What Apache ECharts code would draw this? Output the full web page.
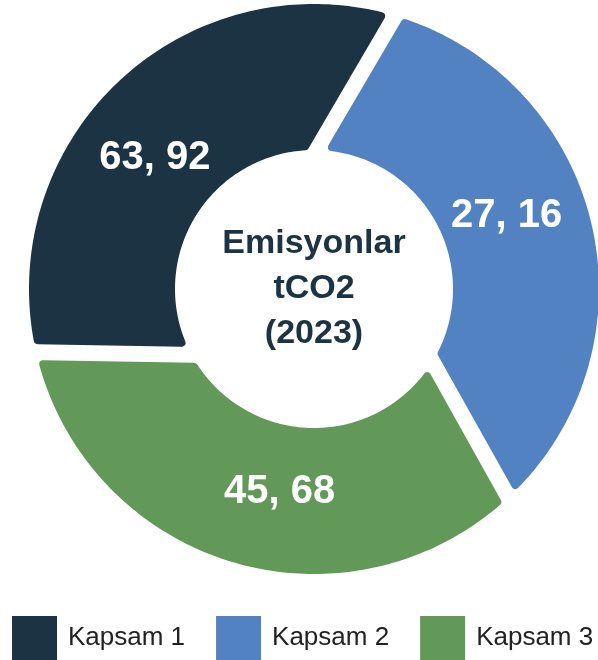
<!DOCTYPE html>
<html>
<head>
<meta charset="utf-8">
<script src="https://cdn.jsdelivr.net/npm/echarts@6/dist/echarts.min.js"></script>
<style>
  html, body { margin: 0; padding: 0; background: #fff; }
  #chart { width: 598px; height: 660px; }
</style>
</head>
<body>
<div id="chart"></div>
<script>
// Kapsam emissions (tCO2, 2023) as printed on the slices
const categories = ["Kapsam 1", "Kapsam 2", "Kapsam 3"];
const emissions = [63.92, 27.16, 45.68];
// share of the ring each slice takes in the picture (%)
const sliceShares = [33.15, 33.45, 33.4];
const colors = ["#1b3343", "#5382c3", "#629858"];
const centerLines = ["Emisyonlar", "tCO2", "(2023)"];

const FONT = "'Liberation Sans', Arial, Helvetica, sans-serif";

// ring geometry
const ring = {
  cx: 314, cy: 289,
  outer: 285, inner: 139,
  start: 242.5,   // degrees clockwise from 12 o'clock, at the inner edge
  twist: 14.5,    // outer end of each cut sits this much further clockwise
  gap: 16,
  corner: 4,
  labelRadius: 206
};

function fmt(v) {
  return v.toFixed(2).replace(".", ", ");
}

function polar(rho, deg) {
  const a = deg * Math.PI / 180;
  return [ring.cx + rho * Math.sin(a), ring.cy - rho * Math.cos(a)];
}

// distance from centre to a cut line (same for every cut)
function cutDistance() {
  const t = ring.twist * Math.PI / 180;
  const r = ring.inner, R = ring.outer;
  const cross = r * R * Math.sin(t);
  const len = Math.sqrt(r * r + R * R - 2 * r * R * Math.cos(t));
  return cross / len;
}

function offsetDeg(h, rho) {
  const d = cutDistance();
  const cosPhi = Math.sqrt(Math.max(0, 1 - (d / rho) * (d / rho)));
  return (h / (rho * cosPhi)) * 180 / Math.PI;
}

const total = sliceShares.reduce((s, v) => s + v, 0);

function sliceAngles(i) {
  let before = 0;
  for (let k = 0; k < i; k++) before += sliceShares[k];
  const a0 = ring.start + before / total * 360;
  const a1 = a0 + sliceShares[i] / total * 360;
  return [a0, a1];
}

function renderSlice(i) {
  return function (params, api) {
    const [a0, a1] = sliceAngles(i);
    const k = ring.corner;
    const Ro = ring.outer - k, Ri = ring.inner + k;
    const h = ring.gap / 2 + k;
    const dOut = offsetDeg(h, Ro), dIn = offsetDeg(h, Ri);
    const pts = [];
    const oS = a0 + ring.twist + dOut, oE = a1 + ring.twist - dOut;
    const nO = Math.max(2, Math.ceil(oE - oS));
    for (let j = 0; j <= nO; j++) pts.push(polar(Ro, oS + (oE - oS) * j / nO));
    const iS = a1 - dIn, iE = a0 + dIn;
    const nI = Math.max(2, Math.ceil(iS - iE));
    for (let j = 0; j <= nI; j++) pts.push(polar(Ri, iS + (iE - iS) * j / nI));

    const mid = (a0 + a1) / 2 + ring.twist / 2;
    const lp = polar(ring.labelRadius, mid);
    return {
      type: "group",
      children: [
        {
          type: "polygon",
          shape: { points: pts },
          style: {
            fill: colors[i],
            stroke: colors[i],
            lineWidth: 2 * k,
            lineJoin: "round"
          }
        },
        {
          type: "text",
          x: lp[0],
          y: lp[1],
          style: {
            text: fmt(api.value(0)),
            fill: "#fff",
            fontSize: 40,
            fontWeight: "bold",
            fontFamily: FONT,
            align: "center",
            verticalAlign: "middle"
          }
        }
      ]
    };
  };
}

const chart = echarts.init(document.getElementById("chart"));

const option = {
  animation: false,
  color: colors,
  legend: {
    data: categories,
    icon: "rect",
    left: 12,
    bottom: 0,
    padding: 0,
    width: 1000,
    itemWidth: 45,
    itemHeight: 44,
    itemGap: 31,
    textStyle: {
      fontSize: 26,
      color: "#222",
      fontFamily: FONT,
      padding: [0, 0, 0, 6]
    }
  },
  graphic: [
    {
      type: "text",
      x: ring.cx,
      y: ring.cy,
      style: {
        text: centerLines.join("\n"),
        fill: "#1c3344",
        fontSize: 34,
        fontWeight: "bold",
        fontFamily: FONT,
        lineHeight: 45,
        align: "center",
        verticalAlign: "middle"
      }
    }
  ],
  series: categories.map(function (name, i) {
    return {
      name: name,
      type: "custom",
      coordinateSystem: "none",
      itemStyle: { color: colors[i] },
      renderItem: renderSlice(i),
      data: [[emissions[i]]]
    };
  })
};

chart.setOption(option);
</script>
</body>
</html>
